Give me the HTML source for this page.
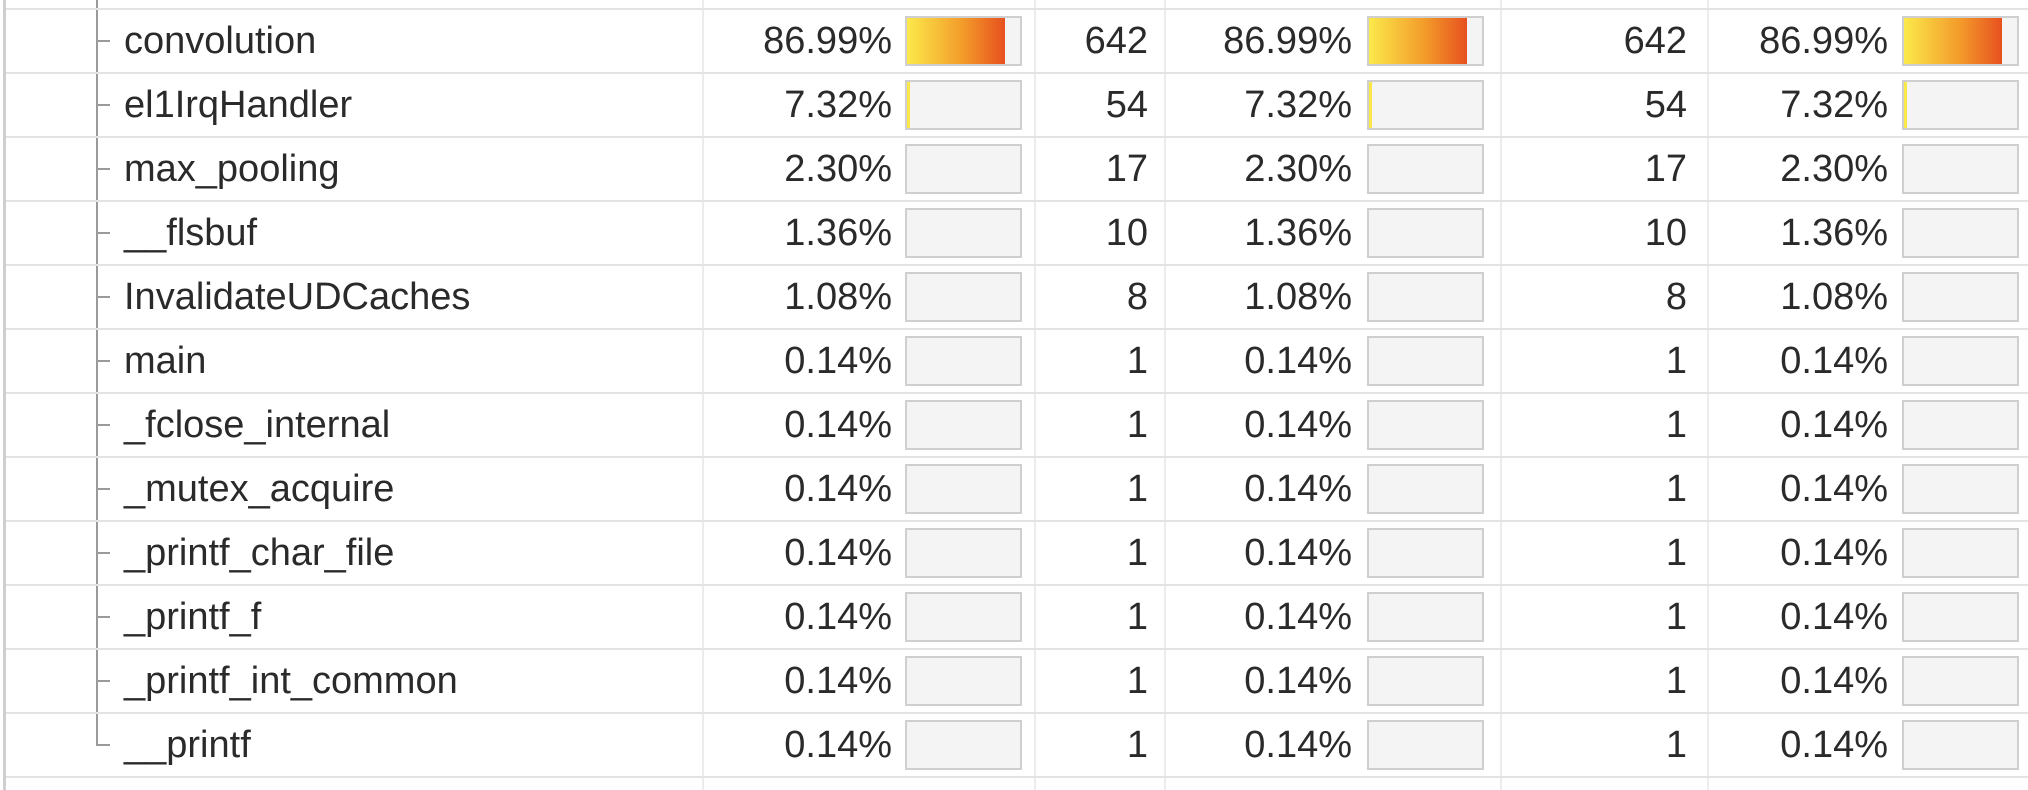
<!DOCTYPE html>
<html><head><meta charset="utf-8">
<style>
html,body{margin:0;padding:0;background:#fff;width:2028px;height:790px;overflow:hidden}
#t{position:absolute;left:0;top:0;width:2028px;height:790px}
.txt{position:absolute;font-family:"Liberation Sans",sans-serif;font-size:38px;color:#2a2a2a;line-height:64px;white-space:nowrap}
.r{text-align:right}
.hl{position:absolute;height:2px;background:#e3e3e3;left:6px;width:2022px}
.vl{position:absolute;width:2px;background:#ececec;top:0;height:790px}
.box{position:absolute;height:50px;background:#f4f4f4;border:2px solid #cfcfcf;box-sizing:border-box}
.fill{position:absolute;left:0;top:0;bottom:0;background:linear-gradient(to right,#fbe94a,#f39a2a 50%,#e2361a);background-size:113px 100%;background-repeat:no-repeat}
.tick{position:absolute;height:2px;background:#9a9a9a}
</style></head>
<body>
<div id="t"></div>
<script>
const names=["convolution","el1IrqHandler","max_pooling","__flsbuf","InvalidateUDCaches","main","_fclose_internal","_mutex_acquire","_printf_char_file","_printf_f","_printf_int_common","__printf"];
const pcts=[86.99,7.32,2.30,1.36,1.08,0.14,0.14,0.14,0.14,0.14,0.14,0.14];
const counts=[642,54,17,10,8,1,1,1,1,1,1,1];
const t=document.getElementById('t');
const top0=9,rh=64;
function add(cls,style,txt){const d=document.createElement('div');d.className=cls;Object.assign(d.style,style);if(txt!==undefined)d.textContent=txt;t.appendChild(d);return d;}
const lb=add('vl',{left:'3px',background:'#cfcfcf',width:'3px'});


[702,1034,1164,1500,1707].forEach(x=>{const v=add('vl',{left:x+'px'});

});
const tv=add('tick',{left:'96px',top:'0px',width:'2px',height:(top0+11*rh+32)+'px'});


const hl0=add('hl',{top:(top0-1)+'px'});


function bar(x,y,p){const b=add('box',{left:x+'px',top:(y+7)+'px',width:'117px'});


const f=document.createElement('div');f.className='fill';
f.style.width=(p<3?0:p)+'%';
if(p>=3&&p<10)f.style.width='3px';


b.appendChild(f);}
names.forEach((n,i)=>{
 const y=top0+i*rh;
 const tk=add('tick',{left:'96px',top:(y+31)+'px',width:'14px'});
 
 
 const nm=add('txt',{left:'124px',top:y+'px'},n);
 
 
 const p=pcts[i].toFixed(2)+'%';
 const a=add('txt r',{left:'700px',width:'192px',top:y+'px'},p);
 
 
 bar(905,y,pcts[i]);
 const c1=add('txt r',{left:'1040px',width:'108px',top:y+'px'},String(counts[i]));
 
 
 const b1=add('txt r',{left:'1166px',width:'186px',top:y+'px'},p);
 
 
 bar(1367,y,pcts[i]);
 const c2=add('txt r',{left:'1510px',width:'177px',top:y+'px'},String(counts[i]));
 
 
 const b2=add('txt r',{left:'1710px',width:'178px',top:y+'px'},p);
 
 
 bar(1902,y,pcts[i]);
 const h=add('hl',{top:(y+rh-1)+'px'});
 
 
});
</script>
</body></html>
